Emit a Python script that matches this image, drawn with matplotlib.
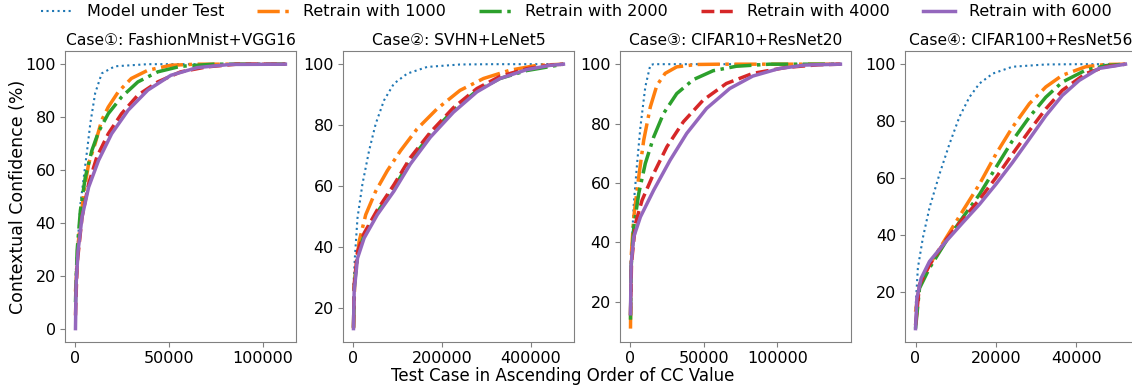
import matplotlib
matplotlib.use("Agg")
import matplotlib.pyplot as plt

plt.rcParams['font.family'] = ['DejaVu Sans', 'Noto Sans CJK SC']
plt.rcParams['font.size'] = 11.5

titles = ['Case①: FashionMnist+VGG16', 'Case②: SVHN+LeNet5',
          'Case③: CIFAR10+ResNet20', 'Case④: CIFAR100+ResNet56']
labels = ['Model under Test', 'Retrain with 1000', 'Retrain with 2000',
          'Retrain with 4000', 'Retrain with 6000']
colors = ['#1f77b4', '#ff7f0e', '#2ca02c', '#d62728', '#9467bd']
styles = [':', '-.', '-.', '--', '-']
widths = [1.5, 2.5, 2.5, 2.5, 2.5]

# case 1: FashionMnist + VGG16 (x = test case index, y = CC %)
c1_x = [
    [0, 1750, 2630, 4390, 6140, 7900, 10500, 14000, 21000, 38600, 112000],
    [0, 1750, 4390, 7020, 10500, 14000, 17500, 22800, 29800, 38600, 50900, 64900, 112000],
    [0, 880, 2630, 5260, 8770, 12300, 17500, 24600, 33300, 43900, 56100, 73700, 112000],
    [0, 880, 3510, 7020, 11400, 17500, 24600, 33300, 43900, 56100, 70200, 86000, 112000],
    [0, 350, 1400, 3510, 7020, 12300, 19300, 28100, 38600, 50900, 64900, 82500, 112000],
]
c1_y = [
    [20, 38, 47, 57, 67, 77.5, 89, 96.5, 99.2, 100, 100],
    [14, 34.6, 51, 62.4, 70, 78.8, 83.8, 89.5, 94.6, 97.7, 99.6, 100, 100],
    [10, 29.5, 44.7, 57.3, 67.4, 74.4, 81.3, 87.6, 93.3, 97.1, 99.2, 100, 100],
    [5, 24.5, 42.2, 54.8, 64.9, 73.7, 81.3, 88.3, 93.3, 97.1, 99, 100, 100],
    [0, 16.9, 29.5, 42.2, 53.5, 63.6, 73.7, 82.6, 90.2, 95.8, 98.7, 99.9, 100],
]

# case 2: SVHN + LeNet5
c2_x = [
    [0, 3000, 9000, 20100, 35100, 50000, 68700, 91000, 121000, 166000, 240000, 315000, 473000],
    [0, 3000, 12700, 27600, 50000, 76100, 106000, 143000, 188000, 240000, 293000, 352000, 412000, 473000],
    [0, 1500, 9000, 23900, 53700, 91000, 128000, 173000, 225000, 278000, 330000, 390000, 442000, 473000],
    [0, 1500, 9000, 23900, 53700, 91000, 128000, 173000, 225000, 278000, 330000, 390000, 442000, 473000],
    [0, 1500, 9000, 23900, 53700, 91000, 128000, 173000, 225000, 278000, 330000, 390000, 442000, 473000],
]
c2_y = [
    [27.5, 36.3, 49.5, 60.6, 71.6, 80.4, 88.1, 93.6, 96.9, 99.1, 99.9, 100, 100],
    [13.2, 29.7, 41.8, 50.6, 58.3, 65, 71.6, 78.7, 85.3, 91.4, 95.3, 98, 99.6, 100],
    [13.5, 26.4, 37.4, 43.8, 51.4, 59.4, 68.3, 76.9, 84.9, 91.3, 95.3, 97.9, 99.2, 100],
    [13.5, 27.5, 38.5, 44.5, 52.2, 60.4, 69.3, 77.6, 85.7, 92, 96, 98.5, 99.7, 100],
    [13.2, 25.3, 36.3, 42.9, 50.6, 58.3, 67.2, 76, 84.2, 90.9, 95.3, 98.2, 99.6, 100],
]

# case 3: CIFAR10 + ResNet20
c3_x = [
    [0, 1130, 2250, 4500, 6760, 10100, 13500, 15800, 143000],
    [0, 450, 2250, 5630, 9000, 13500, 18000, 23600, 31500, 45000, 60800, 143000],
    [0, 450, 2250, 5630, 10100, 15800, 22500, 31500, 42800, 56300, 72100, 94600, 143000],
    [0, 680, 3380, 7880, 15800, 24800, 36000, 49500, 65300, 83300, 106000, 128000, 143000],
    [0, 450, 2250, 6760, 15800, 27000, 38300, 51800, 67600, 83300, 101000, 119000, 143000],
]
c3_y = [
    [30, 41.9, 53.1, 66.6, 78.9, 92.4, 99.7, 100, 100],
    [11, 35.1, 48.6, 62.1, 74.4, 85.6, 92.9, 96.9, 99.1, 99.9, 100, 100],
    [14, 31.8, 45.2, 56.5, 66.6, 75.5, 83.4, 90.1, 94.8, 97.8, 99.3, 100, 100],
    [15.5, 32.9, 46.4, 54.2, 63.2, 72.2, 80.6, 87.9, 93.5, 96.9, 98.9, 99.8, 100],
    [16, 32.9, 41.9, 48.6, 57.6, 67.7, 76.7, 85.1, 91.8, 96, 98.5, 99.7, 100],
]

# case 4: CIFAR100 + ResNet56
c4_x = [
    [0, 580, 1820, 3470, 5950, 8430, 10900, 13400, 15900, 19200, 24100, 32400, 40700, 52200],
    [0, 990, 3470, 7600, 11700, 15900, 20000, 24100, 28300, 32400, 36500, 42300, 47300, 52200],
    [0, 990, 3470, 7600, 11700, 15900, 20000, 24100, 28300, 32400, 36500, 42300, 47300, 52200],
    [0, 990, 3470, 7600, 11700, 15900, 20000, 24100, 28300, 32400, 36500, 42300, 47300, 52200],
    [0, 330, 1400, 3470, 7600, 11700, 15900, 20000, 24100, 28300, 32400, 36500, 40700, 45600, 52200],
]
c4_y = [
    [14, 28.3, 38.9, 49.5, 61.3, 71.9, 81.4, 88.4, 93.2, 96.7, 99.1, 99.9, 100, 100],
    [12.9, 22.4, 29.4, 38.9, 48.3, 57.8, 68.4, 77.8, 86.1, 92, 96.1, 99.1, 99.9, 100],
    [7, 21.2, 28.3, 37.7, 46, 54.2, 63.7, 73.1, 81.4, 88.4, 93.7, 97.9, 99.5, 100],
    [8.2, 22.4, 29.4, 38.3, 45.4, 52.4, 60.1, 68.4, 76.6, 84.3, 90.8, 96.7, 99.1, 100],
    [7, 17.6, 24.7, 30.6, 37.7, 44.2, 50.7, 57.8, 65.4, 73.7, 81.9, 89, 94.3, 98.5, 100],
]

cases_x = [c1_x, c2_x, c3_x, c4_x]
cases_y = [c1_y, c2_y, c3_y, c4_y]
xticks = [[0, 50000, 100000], [0, 200000, 400000], [0, 50000, 100000], [0, 20000, 40000]]

fig, axes = plt.subplots(1, 4, figsize=(11.32, 3.92), dpi=100)
lefts = [0.0574, 0.3030, 0.5477, 0.7995]
for i, ax in enumerate(axes):
    ax.set_position([lefts[i], 0.128, 0.204, 0.742])
    for j in range(5):
        ax.plot(cases_x[i][j], cases_y[i][j], color=colors[j], linestyle=styles[j],
                linewidth=widths[j], label=labels[j])
    ax.set_title(titles[i], fontsize=11.2, pad=4)
    ax.set_xticks(xticks[i])
    for s in ax.spines.values():
        s.set_color('0.5')
    ax.tick_params(color='0.5', labelsize=11.5, pad=3)

axes[0].set_ylabel('Contextual Confidence (%)', fontsize=12.5)
axes[0].yaxis.set_label_coords(-0.165, 0.5)
fig.text(0.497, 0.04, 'Test Case in Ascending Order of CC Value', ha='center',
         va='center', fontsize=12)
h, l = axes[0].get_legend_handles_labels()
fig.legend(h, l, loc='center', ncol=5, frameon=False, fontsize=11.5,
           bbox_to_anchor=(0.509, 0.97), handlelength=2.0, handletextpad=0.85,
           columnspacing=2.1)

fig.savefig('out.png', dpi=100)
